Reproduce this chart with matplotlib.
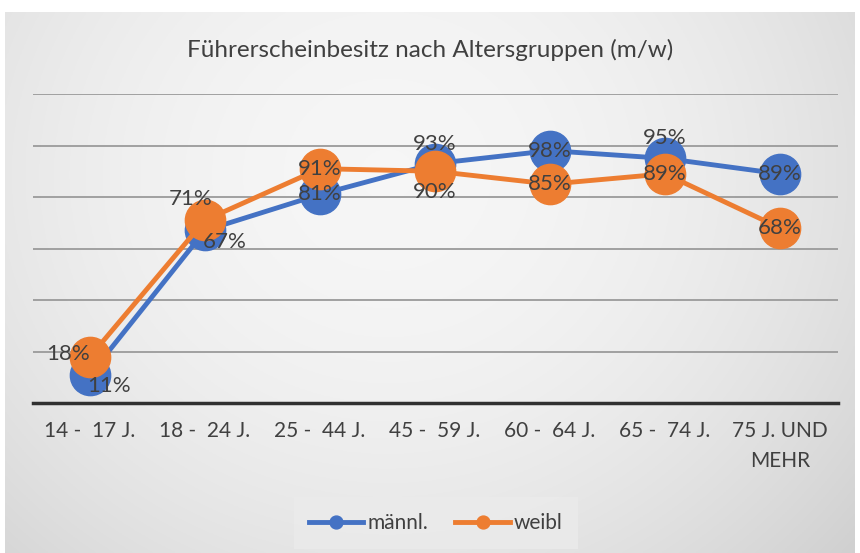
import matplotlib.pyplot as plt
import numpy as np

categories = ["14 -  17 J.", "18 -  24 J.", "25 -  44 J.", "45 -  59 J.",
              "60 -  64 J.", "65 -  74 J.", "75 J. UND\nMEHR"]
maennl = [11, 67, 81, 93, 98, 95, 89]
weibl = [18, 71, 91, 90, 85, 89, 68]

# label offsets (points) for data labels
off_m = [(14, -8), (14, -8), (0, 0), (0, 14), (0, 0), (0, 15), (0, 0)]
off_w = [(-16, 2), (-10, 15), (0, 0), (0, -15), (0, 0), (0, 0), (0, 0)]

plt.rcParams['font.family'] = ['Lato', 'DejaVu Sans']
txt = '#404040'

fig = plt.figure(figsize=(8.6, 5.53), dpi=100)
fig.patch.set_facecolor('white')

# chart area background (radial gradient)
bg = fig.add_axes([5/860, 0, 850/860, 541/553], zorder=0)
yy, xx = np.mgrid[0:1:300j, 0:1:400j]
r2 = ((xx - 0.45) / 0.55) ** 2 + ((yy - 0.3) / 0.8) ** 2
g = np.clip(0.965 - 0.085 * r2, 0.76, 1)
bg.imshow(np.dstack([g, g, g]), aspect='auto', extent=[0, 1, 0, 1],
          origin='upper')
bg.set_axis_off()

ax = fig.add_axes([32.5/860, 150/553, 805/860, 309/553], zorder=1)
ax.patch.set_alpha(0)
x = np.arange(len(categories))

ax.plot(x, maennl, '-o', color='#4472C4', lw=3.5, ms=29, label='männl.',
        clip_on=False, zorder=3)
ax.plot(x, weibl, '-o', color='#ED7D31', lw=3.5, ms=29, label='weibl',
        clip_on=False, zorder=4)

for i in x:
    ax.annotate(f"{maennl[i]}%", (i, maennl[i]), xytext=off_m[i],
                textcoords='offset points', ha='center', va='center',
                fontsize=16, color=txt, zorder=6)
    ax.annotate(f"{weibl[i]}%", (i, weibl[i]), xytext=off_w[i],
                textcoords='offset points', ha='center', va='center',
                fontsize=16, color=txt, zorder=6)

ax.set_xlim(-0.5, len(categories) - 0.5)
ax.set_ylim(0, 120)
ax.set_yticks([20, 40, 60, 80, 100, 120])
ax.yaxis.grid(True, color='#a0a0a0', lw=1.4)
ax.set_axisbelow(True)
ax.tick_params(axis='y', left=False, labelleft=False)
ax.tick_params(axis='x', length=0, pad=13, labelsize=15, labelcolor=txt)
ax.set_xticks(x)
ax.set_xticklabels(categories, linespacing=1.6)
for s in ['top', 'right', 'left']:
    ax.spines[s].set_visible(False)
ax.spines['bottom'].set_color('#303030')
ax.spines['bottom'].set_linewidth(2.5)

fig.text(0.5, 1 - 50/553, "Führerscheinbesitz nach Altersgruppen (m/w)",
         ha='center', va='center', fontsize=17.5, color=txt)

leg = fig.legend(loc='center', bbox_to_anchor=(436/860, 1 - 523/553), ncol=2,
                 frameon=True, fontsize=15, markerscale=0.32,
                 handlelength=2.6, columnspacing=1.3, handletextpad=0.2,
                 fancybox=False, borderpad=0.75, borderaxespad=0)
leg.get_frame().set_facecolor('#ebebeb')
leg.get_frame().set_edgecolor('none')
for t in leg.get_texts():
    t.set_color(txt)

fig.savefig('out.png', dpi=100)
